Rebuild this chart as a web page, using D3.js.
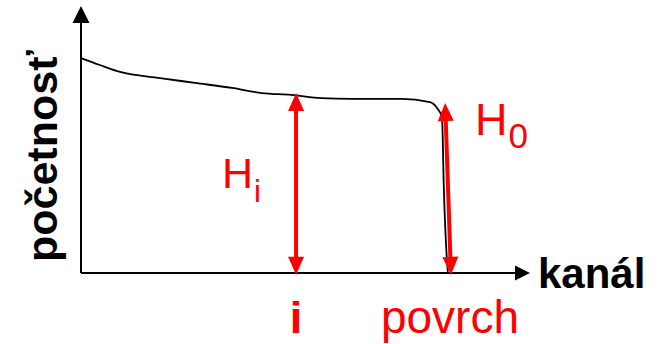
<!DOCTYPE html>
<html>
<head>
<meta charset="utf-8">
<script src="https://cdn.jsdelivr.net/npm/d3@7/dist/d3.min.js"></script>
<style>
html,body{margin:0;padding:0;background:#fff;}
svg{display:block;}
text{font-family:"Liberation Sans",Arial,sans-serif;}
</style>
</head>
<body>
<svg id="chart" width="660" height="344"></svg>
<script>
// Spectrum curve: channel vs. count (arbitrary units)
const channels = [0, 4.2, 8.7, 17.6, 25.4, 33.6, 40.3, 46.8, 53.5, 60.2, 71.3, 77.7, 79.3, 80.4, 80.8, 81.5, 81.7];
const counts   = [80.5, 77.9, 75.3, 73.0, 71.2, 69.3, 67.4, 66.7, 65.5, 65.2, 65.2, 64.0, 61.8, 58.4, 32.2, 4.9, 0.4];

// Annotation arrows (channel, count from -> to)
const arrowNames   = ["Hi", "H0"];
const arrowX1      = [47.9, 82.4];
const arrowY1      = [-0.7, -0.7];
const arrowX2      = [47.9, 81.1];
const arrowY2      = [67.4, 63.7];

const xLabel = "kanál";
const yLabel = "početnosť";
const tickLabels = ["i", "povrch"];

const svg = d3.select("#chart");
const x = d3.scaleLinear().domain([0, 100]).range([81, 530]);
const y = d3.scaleLinear().domain([0, 100]).range([273, 6]);

const red = "#ff0000";

// Axes (arrows)
svg.append("line").attr("x1", x(0)).attr("y1", y(0)).attr("x2", x(0)).attr("y2", y(100) + 14)
  .attr("stroke", "#000").attr("stroke-width", 2);
svg.append("path")
  .attr("d", `M${x(0)},${y(100)} L${x(0) - 8.5},${y(100) + 17} L${x(0) + 8.5},${y(100) + 17} Z`)
  .attr("fill", "#000");
svg.append("line").attr("x1", x(0)).attr("y1", y(0)).attr("x2", x(100) - 12).attr("y2", y(0))
  .attr("stroke", "#000").attr("stroke-width", 2);
svg.append("path")
  .attr("d", `M${x(100)},${y(0)} L${x(100) - 15},${y(0) - 7.5} L${x(100) - 15},${y(0) + 7.5} Z`)
  .attr("fill", "#000");

// Curve
const pts = channels.map((c, i) => [c, counts[i]]);
svg.append("path")
  .datum(pts)
  .attr("d", d3.line().x(d => x(d[0])).y(d => y(d[1])).curve(d3.curveMonotoneX))
  .attr("fill", "none").attr("stroke", "#000").attr("stroke-width", 1.8);

// Red double arrows
const headLen = 18, headHalf = 8;
arrowNames.forEach((n, i) => {
  const p1 = [x(arrowX1[i]), y(arrowY1[i])];
  const p2 = [x(arrowX2[i]), y(arrowY2[i])];
  const dx = p2[0] - p1[0], dy = p2[1] - p1[1];
  const L = Math.hypot(dx, dy);
  const ux = dx / L, uy = dy / L, nx = -uy, ny = ux;
  const g = svg.append("g");
  g.append("line")
    .attr("x1", p1[0] + ux * (headLen - 2)).attr("y1", p1[1] + uy * (headLen - 2))
    .attr("x2", p2[0] - ux * (headLen - 2)).attr("y2", p2[1] - uy * (headLen - 2))
    .attr("stroke", red).attr("stroke-width", 4);
  const head = (tip, sx, sy) => {
    const bx = tip[0] + sx * headLen, by = tip[1] + sy * headLen;
    return `M${tip[0]},${tip[1]} L${bx + nx * headHalf},${by + ny * headHalf} L${bx - nx * headHalf},${by - ny * headHalf} Z`;
  };
  g.append("path").attr("d", head(p1, ux, uy)).attr("fill", red);
  g.append("path").attr("d", head(p2, -ux, -uy)).attr("fill", red);
});

// H labels
const hi = svg.append("text").attr("x", 222).attr("y", 188).attr("fill", red).attr("font-size", 43);
hi.append("tspan").text("H");
hi.append("tspan").attr("font-size", 31).attr("dx", 1).attr("dy", 14).text("i");

const h0 = svg.append("text").attr("x", 475).attr("y", 135).attr("fill", red).attr("font-size", 45);
h0.append("tspan").text("H");
h0.append("tspan").attr("font-size", 35).attr("dx", 1).attr("dy", 13).text("0");

// Tick-like labels under x axis
svg.append("text").attr("x", x(arrowX1[0])).attr("y", 333).attr("text-anchor", "middle")
  .attr("fill", red).attr("font-size", 45).attr("font-weight", "bold").text(tickLabels[0]);
svg.append("text").attr("x", 450).attr("y", 333).attr("text-anchor", "middle")
  .attr("fill", red).attr("font-size", 46).text(tickLabels[1]);

// Axis titles
svg.append("text").attr("x", 538).attr("y", 288).attr("fill", "#000")
  .attr("font-size", 42).attr("font-weight", "bold").text(xLabel);
svg.append("text").attr("transform", "translate(57,262) rotate(-90)")
  .attr("fill", "#000").attr("font-size", 43).attr("font-weight", "bold").text(yLabel);
</script>
</body>
</html>
